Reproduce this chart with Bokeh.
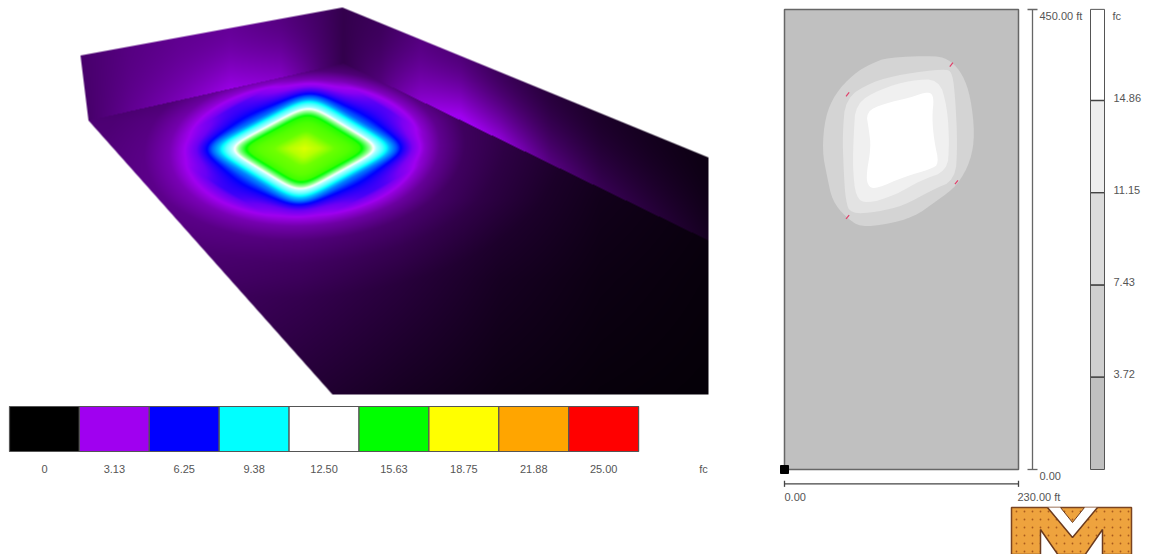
import numpy as np
from bokeh.plotting import figure
from bokeh.models import Range1d
from bokeh.core.properties import value
from bokeh.embed import file_html
from bokeh.resources import INLINE

# ---------- data ----------
fc_levels = [0, 3.13, 6.25, 9.38, 12.50, 15.63, 18.75, 21.88, 25.00]
fc_labels = ["0", "3.13", "6.25", "9.38", "12.50", "15.63", "18.75", "21.88", "25.00"]
swatch_colors = ["#000000", "#a000f0", "#0000ff", "#00ffff", "#ffffff", "#00ff00", "#ffff00", "#ffa500", "#ff0000"]

# hot spot: illuminance read along a transect from its centre (distance, fc)
spot_dist = [0, 15, 30, 45, 55, 60, 66, 72, 78, 85, 92, 100, 108, 120, 135, 160, 200, 260]
spot_fc = [17.3, 16.8, 15.9, 15.6, 15.2, 14.0, 12.5, 10.5, 9.38, 7.5, 6.25, 4.4, 2.9, 1.8, 1.0, 0.4, 0.15, 0.0]

# floor background illuminance on a coarse grid
floor_x = [90, 200, 300, 400, 500, 600, 709]
floor_y = [60, 120, 200, 280, 394]
floor_fc = [
    [1.0, 0.8, 0.5, 0.4, 0.5, 0.4, 0.3],
    [1.4, 1.2, 0.9, 0.9, 0.8, 0.5, 0.3],
    [1.5, 1.4, 1.3, 1.1, 0.7, 0.35, 0.2],
    [1.4, 1.3, 1.1, 0.8, 0.45, 0.25, 0.15],
    [1.0, 1.0, 0.7, 0.45, 0.25, 0.15, 0.1],
]
# wall illuminance along each wall, at its base and at its top
left_wall_x = [80, 130, 180, 230, 280, 320, 343]
left_wall_base = [1.3, 1.9, 2.4, 3.0, 2.6, 1.5, 1.0]
left_wall_top = [1.4, 1.7, 1.9, 2.0, 1.7, 1.3, 1.0]
right_wall_x = [343, 380, 420, 460, 500, 550, 600, 650, 708]
right_wall_base = [1.0, 1.6, 2.7, 3.3, 2.8, 1.7, 1.1, 0.8, 0.45]
right_wall_top = [1.0, 1.2, 1.7, 1.6, 1.2, 0.8, 0.55, 0.4, 0.25]

# isoline plan, feet
band_3_72_x = [101, 150, 163, 175, 183, 187, 183, 170, 150, 127, 101, 75, 60, 47, 42, 37, 40, 50, 68, 85]
band_3_72_y = [403, 405, 400, 387, 364, 328, 302, 278, 263, 247, 240, 237, 247, 263, 286, 312, 345, 368, 387, 397]
band_7_43_x = [60, 85, 117, 157, 165, 168, 170, 168, 144, 117, 91, 65, 60, 58, 57]
band_7_43_y = [363, 379, 387, 392, 389, 361, 319, 283, 273, 258, 252, 250, 263, 296, 328]
band_11_15_x = [70, 94, 124, 152, 160, 162, 160, 134, 108, 81, 70, 67, 68]
band_11_15_y = [358, 372, 381, 382, 354, 319, 292, 283, 268, 260, 266, 296, 328]
band_14_86_x = [80, 98, 124, 142, 147, 145, 147, 152, 144, 117, 91, 83, 80, 85, 83]
band_14_86_y = [350, 358, 364, 370, 364, 345, 322, 299, 294, 286, 275, 276, 286, 315, 332]
fixture_x = [62, 164, 169, 62]
fixture_y = [367, 396, 281, 247]

bar_levels = [0, 3.72, 7.43, 11.15, 14.86, 18.53]
bar_colors = ["#c0c0c0", "#cfcfcf", "#dcdcdc", "#eeeeee", "#ffffff"]
bar_tick_labels = ["3.72", "7.43", "11.15", "14.86"]

# ---------- figure: default ranges are picture pixels ----------
W, H = 1152, 554
p = figure(width=W, height=H, output_backend="svg", toolbar_location=None,
           x_range=Range1d(0, W), y_range=Range1d(H, 0),
           x_axis_location=None, y_axis_location=None,
           min_border=0, outline_line_color=None, background_fill_color="white")
p.grid.visible = False


def x_range_for(px0, v0, px1, v1):
    k = (v1 - v0) / (px1 - px0)
    return Range1d(v0 + (0 - px0) * k, v0 + (W - px0) * k)


def y_range_for(px0, v0, px1, v1):
    k = (v1 - v0) / (px1 - px0)
    return Range1d(v0 + (H - px0) * k, v0 + (0 - px0) * k)


p.extra_x_ranges = {"ft_x": x_range_for(784, 0, 1018, 230), "swatch": x_range_for(9, 0, 78.9, 1)}
p.extra_y_ranges = {"ft_y": y_range_for(469, 0, 9, 450), "fc_y": y_range_for(469, 0, 100, 14.86),
                    "raster": Range1d(-H, 0)}

# ---------- perspective raster ----------
X0, X1, Y0, Y1 = 76, 712, 3, 397
xx, yy = np.meshgrid(np.arange(X0, X1) + 0.5, np.arange(Y0, Y1) + 0.5)


def poly_sd(pts):
    m = np.full(xx.shape, 1e9)
    for (ax, ay), (bx, by) in zip(pts, pts[1:] + pts[:1]):
        sd = ((bx - ax) * (yy - ay) - (by - ay) * (xx - ax)) / np.hypot(bx - ax, by - ay)
        m = np.minimum(m, sd)
    return m


A, B, C, Cb, D = (88, 120), (343, 63), (708, 240), (708, 394), (332, 394)
TL, TA, TR = (80, 55), (342, 7), (708, 157)
s_left = poly_sd([TL, TA, B, A])
s_right = poly_sd([TA, TR, C, B])
s_floor = poly_sd([A, B, C, Cb, D])
alpha = np.clip(poly_sd([TL, TA, TR, Cb, D, A]) + 0.5, 0, 1)


def bilinear(x, y, gx, gy, g):
    gx, gy, g = np.array(gx, float), np.array(gy, float), np.array(g, float)
    ix = np.clip(np.searchsorted(gx, x) - 1, 0, len(gx) - 2)
    iy = np.clip(np.searchsorted(gy, y) - 1, 0, len(gy) - 2)
    tx = np.clip((x - gx[ix]) / (gx[ix + 1] - gx[ix]), 0, 1)
    ty = np.clip((y - gy[iy]) / (gy[iy + 1] - gy[iy]), 0, 1)
    return (g[iy, ix] * (1 - tx) * (1 - ty) + g[iy, ix + 1] * tx * (1 - ty)
            + g[iy + 1, ix] * (1 - tx) * ty + g[iy + 1, ix + 1] * tx * ty)


CX, CY, RATIO, SHEAR, N = 304, 148, 0.575, 0.1, 6
dy = (yy - CY) / RATIO
dx = (xx - CX) + SHEAR * (yy - CY)
diamond = ((np.abs(dx + dy) ** N + np.abs(dx - dy) ** N) / 2) ** (1 / N)
round_d = np.hypot(dx, dy)
blend = np.clip((diamond - 90) / 40, 0, 1)
spot_d = diamond * (1 - blend) + round_d * blend
fc_floor = np.interp(spot_d, spot_dist, spot_fc) + bilinear(xx, yy, floor_x, floor_y, floor_fc)


def wall_fc(top_a, top_b, bot_a, bot_b, wx, base, top):
    k = (xx - top_a[0]) / (top_b[0] - top_a[0])
    ytop = top_a[1] + (top_b[1] - top_a[1]) * k
    k2 = (xx - bot_a[0]) / (bot_b[0] - bot_a[0])
    ybot = bot_a[1] + (bot_b[1] - bot_a[1]) * k2
    t = np.clip((yy - ytop) / np.maximum(ybot - ytop, 1), 0, 1) ** 1.5
    return np.interp(xx, wx, top) * (1 - t) + np.interp(xx, wx, base) * t


fc_lw = wall_fc(TL, TA, A, B, left_wall_x, left_wall_base, left_wall_top)
fc_rw = wall_fc(TA, TR, B, C, right_wall_x, right_wall_base, right_wall_top)

field = np.where(s_floor >= np.maximum(s_left, s_right), fc_floor, np.where(s_left >= s_right, fc_lw, fc_rw))
stops = np.array([[int(c[i:i + 2], 16) for i in (1, 3, 5)] for c in swatch_colors], float)
r = np.interp(field, fc_levels, stops[:, 0]).astype(np.uint32)
g = np.interp(field, fc_levels, stops[:, 1]).astype(np.uint32)
b = np.interp(field, fc_levels, stops[:, 2]).astype(np.uint32)
a = (alpha * 255).astype(np.uint32)
rgba = (r | (g << 8) | (b << 16) | (a << 24))[::-1]
p.image_rgba(image=[rgba], x=X0, y=-Y1, dw=X1 - X0, dh=Y1 - Y0, y_range_name="raster")

# ---------- horizontal colour key ----------
LBL = dict(text_font=value("Liberation Sans"), text_font_size="11px", text_color="#555555", text_baseline="middle")
idx = np.arange(len(swatch_colors))
p.quad(left=idx, right=idx + 1, top=406, bottom=451, fill_color=swatch_colors,
       line_color="#555555", line_width=1.2, x_range_name="swatch")
p.text(x=idx + 0.5, y=[468] * len(idx), text=fc_labels, text_align="center", x_range_name="swatch", **LBL)
p.text(x=[703], y=[468], text=["fc"], text_align="center", **LBL)

# ---------- plan with iso bands ----------
FT = dict(x_range_name="ft_x", y_range_name="ft_y")


def rounded(xs, ys, passes=2):
    """Corner-cut a hand-read outline so that it draws as a smooth curve."""
    pts = np.column_stack([xs, ys]).astype(float)
    for _ in range(passes):
        nxt = np.roll(pts, -1, axis=0)
        pts = np.column_stack([0.75 * pts + 0.25 * nxt, 0.25 * pts + 0.75 * nxt]).reshape(-1, 2)
    return pts[:, 0], pts[:, 1]


p.quad(left=0, right=230, bottom=0, top=450, fill_color="#c0c0c0", line_color="#666666", line_width=1.5, **FT)
for bx, by, col in [(band_3_72_x, band_3_72_y, "#d4d4d4"), (band_7_43_x, band_7_43_y, "#e3e3e3"),
                    (band_11_15_x, band_11_15_y, "#f0f0f0"), (band_14_86_x, band_14_86_y, "#ffffff")]:
    sx, sy = rounded(bx, by)
    p.patch(sx, sy, fill_color=col, line_color=None, **FT)
p.scatter(fixture_x, fixture_y, marker="dash", size=5, angle=0.9, line_color="#e0406a", line_width=1.2, **FT)
p.scatter([0], [0], marker="square", size=8, fill_color="black", line_color="black", **FT)

# dimension bars
p.segment(x0=[0, 0, 230], y0=[-14, -11, -11], x1=[230, 0, 230], y1=[-14, -17, -17],
          line_color="#444444", line_width=1.3, **FT)
p.segment(x0=[1032, 1027, 1027], y0=[9, 9, 469], x1=[1032, 1037, 1037], y1=[469, 9, 469],
          line_color="#666666", line_width=1.3)
p.text(x=[784, 1017], y=[496, 496], text=["0.00", "230.00 ft"], text_align="left", **LBL)
p.text(x=[1039, 1039], y=[15, 475], text=["450.00 ft", "0.00"], text_align="left", **LBL)

# ---------- vertical iso key ----------
p.quad(left=1090, right=1104, bottom=bar_levels[:-1], top=bar_levels[1:], fill_color=bar_colors,
       line_color="#555555", line_width=1, y_range_name="fc_y")
p.segment(x0=[1090] * 4, x1=[1104] * 4, y0=bar_levels[1:5], y1=bar_levels[1:5],
          line_color="#444444", line_width=1.3, y_range_name="fc_y")
p.text(x=[1113] * 4, y=bar_levels[1:5], text=bar_tick_labels, text_align="left", y_offset=-3,
       y_range_name="fc_y", **LBL)
p.text(x=[1112], y=[15], text=["fc"], text_align="left", **LBL)

# ---------- logo ----------
p.quad(left=1011, right=1131, top=507, bottom=554, fill_color="#eea33e", line_color="#7a4320", line_width=1.5)
dx_logo, dy_logo = np.meshgrid(np.arange(1016, 1130, 8), np.arange(511, 554, 8))
p.scatter(dx_logo.ravel(), dy_logo.ravel(), marker="circle", size=1.8, fill_color="#a85a1e", line_color=None)
p.patch([1047, 1072, 1097, 1084, 1072, 1060], [507, 537, 507, 507, 522, 507], fill_color="white", line_color=None)
p.line([1047, 1072, 1097], [507, 537, 507], line_color="#6b3a1e", line_width=1.5)
p.line([1060, 1072, 1084], [507, 522, 507], line_color="#6b3a1e", line_width=1)
p.patch([1040, 1040, 1058], [529, 555, 555], fill_color="white", line_color="#6b3a1e", line_width=1.5)
p.patch([1102, 1102, 1084], [529, 555, 555], fill_color="white", line_color="#6b3a1e", line_width=1.5)

open("out.html", "w").write(file_html(p, INLINE))
